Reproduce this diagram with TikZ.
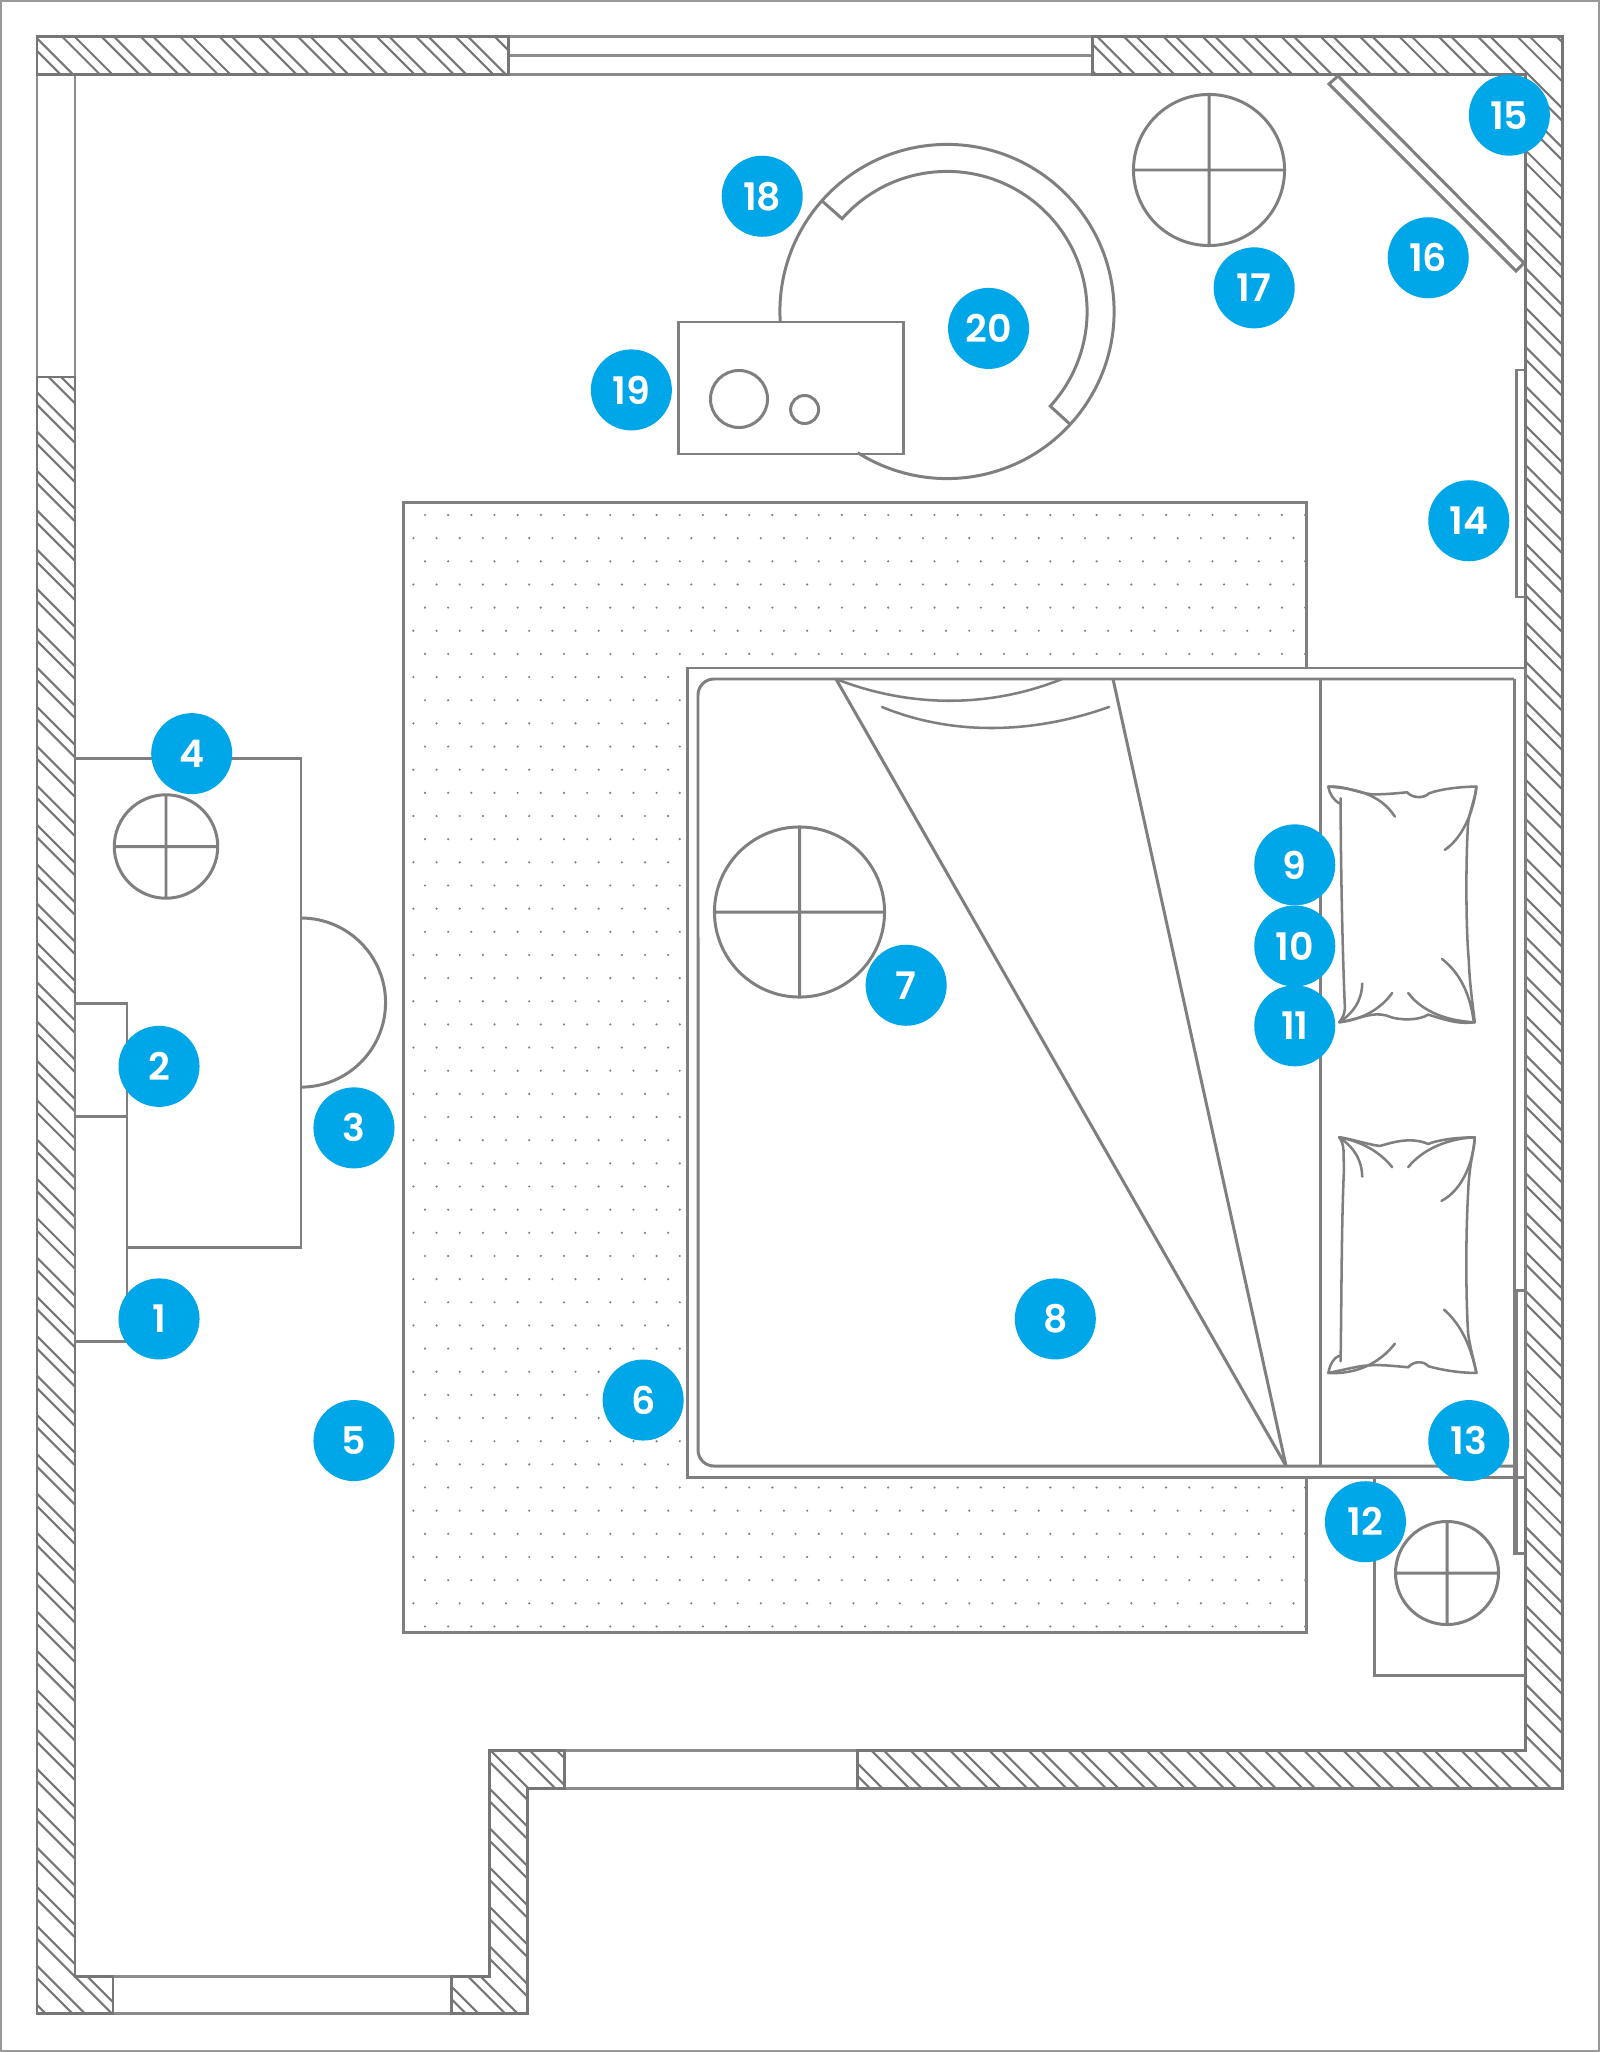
\documentclass[tikz,border=0pt]{standalone}
\usepackage{fontspec}
\setsansfont{Poppins}[BoldFont={Poppins SemiBold}]
\definecolor{ln}{HTML}{7F7F7F}
\definecolor{wl}{HTML}{767676}
\definecolor{bd}{HTML}{00A7E8}
\tikzset{
  plan/.style={draw=ln,line width=0.85pt},
  wallline/.style={draw=wl,line width=0.85pt,line join=miter},
  hatchline/.style={draw=wl,line width=0.6pt},
  winline/.style={draw=ln!90,line width=0.85pt},
  softline/.style={draw=ln,line width=0.72pt,line cap=round,line join=round},
  badge/.style={circle,fill=bd,text=white,minimum size=0.81cm,inner sep=0pt,font=\sffamily\bfseries\fontsize{10.8}{12}\selectfont}
}
\begin{document}
\begin{tikzpicture}[x=0.01cm,y=-0.01cm]
\useasboundingbox (0,0) rectangle (1600,2052);
\fill[white] (0,0) rectangle (1600,2052);
\draw[draw=ln!80,line width=0.7pt] (1,1) rectangle (1599,2051);

% hatching
\begin{scope}
\clip (37,37) rectangle (508,75)
  (37,377) -- (75,377) -- (75,1976) -- (113,1976) -- (113,2013) -- (37,2013) -- cycle
  (451,1976) -- (489,1976) -- (489,1750) -- (564,1750) -- (564,1788) -- (527,1788) -- (527,2013) -- (451,2013) -- cycle
  (857,1750) -- (1525,1750) -- (1525,75) -- (1092,75) -- (1092,37) -- (1562,37) -- (1562,1788) -- (857,1788) -- cycle;
\foreach \n in {-52,...,40}{
  \pgfmathsetmacro{\ca}{38+39.33*\n}
  \pgfmathsetmacro{\cb}{\ca-12.5}
  \draw[hatchline] (\ca,0) -- ({\ca+2052},2052);
  \draw[hatchline] (\cb,0) -- ({\cb+2052},2052);
}
\end{scope}

% windows
\draw[winline] (508,37) -- (1092,37) (508,56) -- (1092,56) (508,75) -- (1092,75);
\draw[winline] (37,75) -- (37,377) (75,75) -- (75,377);
\draw[winline] (113,1976) -- (451,1976) (113,2013) -- (451,2013);
\draw[winline] (564,1750) -- (857,1750) (564,1788) -- (857,1788);

% walls
\draw[wallline] (37,37) rectangle (508,75);
\draw[wallline] (37,377) -- (75,377) -- (75,1976) -- (113,1976) -- (113,2013) -- (37,2013) -- cycle;
\draw[wallline] (451,1976) -- (489,1976) -- (489,1750) -- (564,1750) -- (564,1788) -- (527,1788) -- (527,2013) -- (451,2013) -- cycle;
\draw[wallline] (857,1750) -- (1525,1750) -- (1525,75) -- (1092,75) -- (1092,37) -- (1562,37) -- (1562,1788) -- (857,1788) -- cycle;

% rug
\begin{scope}
\clip (403,502) rectangle (1307,1632);
\foreach \r in {0,...,48}{
  \pgfmathsetmacro{\yy}{515+23.155*\r}
  \pgfmathsetmacro{\xs}{ifthenelse(mod(\r,2)==0,425,413.4)}
  \foreach \k in {0,...,38}{
    \fill[ln] ({\xs+23.16*\k},\yy) circle (0.012cm);
  }
}
\end{scope}
\draw[plan] (403,502.5) rectangle (1306.5,1632);

% bed
\draw[plan,fill=white] (687,668) rectangle (1525,1477);
\draw[plan] (1514,679) -- (714,679) arc[start angle=90,end angle=180,radius=0.16cm]
  -- (698,1450) arc[start angle=180,end angle=270,radius=0.16cm] -- (1514,1466);
\draw[plan] (1514,679) -- (1514,1553) -- (1525,1553);
\draw[plan] (1516,1290) -- (1525,1290);
\draw[plan] (1516,1290) -- (1516,1553);
\draw[plan] (1320,679) -- (1320,1466);
\draw[plan,line join=bevel] (836,679) -- (1286,1466) -- (1113,679);
\draw[softline] (836,679) .. controls (910,708) and (990,708) .. (1062,679);
\draw[softline] (882,707) .. controls (950,735) and (1030,735) .. (1109,707);

% covered circle on bed
\draw[plan] (799.5,912) circle (0.85cm) (714.5,912) -- (884.5,912) (799.5,827) -- (799.5,997);

% pillow 1
\begin{scope}[shift={(1300,760)},x=0.003333cm,y=-0.003333cm]
\draw[softline] (85,80) .. controls (130,76) and (170,98) .. (215,103) .. controls (250,104) and (290,100) .. (322,97)
  .. controls (335,113) and (370,118) .. (388,100) .. controls (420,88) and (480,80) .. (530,80)
  .. controls (528,110) and (508,160) .. (505,190) .. controls (498,300) and (498,500) .. (507,600)
  .. controls (510,680) and (520,740) .. (525,788)
  .. controls (470,795) and (430,778) .. (385,765) .. controls (360,782) and (300,785) .. (260,768)
  .. controls (220,755) and (170,780) .. (118,788) .. controls (128,775) and (133,765) .. (135,745)
  .. controls (128,600) and (122,300) .. (122,115);
\draw[softline] (85,80) .. controls (88,100) and (100,122) .. (122,132);
\draw[softline] (85,80) .. controls (160,85) and (240,100) .. (285,170);
\draw[softline] (530,80) .. controls (520,170) and (480,240) .. (435,270);
\draw[softline] (427,598) .. controls (480,640) and (510,700) .. (522,785);
\draw[softline] (118,788) .. controls (160,760) and (185,725) .. (187,672);
\draw[softline] (118,788) .. controls (190,780) and (245,745) .. (277,700);
\draw[softline] (325,700) .. controls (370,760) and (450,785) .. (525,788);
\end{scope}

% pillow 2
\begin{scope}[shift={(1300,1120)},x=0.003333cm,y=-0.003333cm]
\draw[softline] (118,52) .. controls (160,58) and (210,75) .. (240,78) .. controls (270,70) and (330,48) .. (385,72)
  .. controls (420,58) and (480,52) .. (525,52)
  .. controls (524,90) and (508,130) .. (505,220) .. controls (498,350) and (498,520) .. (505,640)
  .. controls (510,680) and (522,720) .. (530,760)
  .. controls (480,760) and (430,752) .. (386,740) .. controls (370,722) and (340,725) .. (325,743)
  .. controls (270,738) and (220,732) .. (170,742) .. controls (140,748) and (110,755) .. (85,760)
  .. controls (90,735) and (100,715) .. (118,708);
\draw[softline] (118,52) .. controls (135,75) and (130,100) .. (132,150) .. controls (125,300) and (125,500) .. (122,725);
\draw[softline] (118,52) .. controls (165,85) and (185,120) .. (187,170);
\draw[softline] (118,52) .. controls (185,65) and (240,95) .. (277,142);
\draw[softline] (325,142) .. controls (370,85) and (450,55) .. (525,52);
\draw[softline] (525,52) .. controls (520,140) and (480,215) .. (425,243);
\draw[softline] (433,570) .. controls (490,620) and (515,690) .. (530,760);
\draw[softline] (285,672) .. controls (240,730) and (170,765) .. (85,760);
\end{scope}

% nightstand 12
\draw[plan] (1374,1477) -- (1374,1675) -- (1525,1675);
\draw[plan] (1447,1573) circle (0.515cm) (1395.5,1573) -- (1498.5,1573) (1447,1521.5) -- (1447,1624.5);

% wall panels
\draw[plan] (1525,370) -- (1516,370) -- (1516,597) -- (1525,597);

% corner panel
\draw[plan] (1524,263) -- (1338,76) -- (1329,84) -- (1516,271) -- (1524,263);

% desk
\draw[plan] (75,758) -- (301,758) -- (301,1247) -- (127,1247);
\draw[plan] (75,1003) rectangle (127,1116);
\draw[plan] (75,1116) rectangle (127,1341);
\draw[plan] (301,918) arc[start angle=90,end angle=-90,radius=0.845cm];
\draw[plan] (166,846.5) circle (0.517cm) (114.3,846.5) -- (217.7,846.5) (166,794.8) -- (166,898.2);

% round lamp 17
\draw[plan] (1209,170) circle (0.755cm) (1133.5,170) -- (1284.5,170) (1209,94.5) -- (1209,245.5);

% round table and armchair
\coordinate (rc) at (947,311.5);
\draw[plan] (rc) ++(183.6:1.67cm) arc[start angle=183.6,end angle=-122.3,radius=1.67cm];
\draw[plan] (rc) ++(138.5:1.67cm) -- ++(-41.5:0.27cm) arc[start angle=138.5,end angle=-42.5,radius=1.40cm] -- ++(-42.5:0.27cm);
\draw[plan] (678,322) rectangle (903,454);
\draw[plan] (739,399) circle (0.285cm);
\draw[plan] (804.6,409.5) circle (0.14cm);

% badges
\begin{scope}[x=0.013083cm,y=-0.013083cm,xshift=0.007cm]
\node[badge] (b1) at (121,1008) {1};
\node[badge] (b2) at (121,815) {2};
\node[badge] (b3) at (270,862) {3};
\node[badge] (b4) at (146,576) {4};
\node[badge] (b5) at (270,1101) {5};
\node[badge] (b6) at (491,1070) {6};
\node[badge] (b7) at (692,753) {7};
\node[badge] (b8) at (806,1008) {8};
\node[badge] (b9) at (989,661) {9};
\node[badge] (b10) at (989,723) {10};
\node[badge] (b11) at (989,784) {11};
\node[badge] (b12) at (1043,1163) {12};
\node[badge] (b13) at (1122,1101) {13};
\node[badge] (b14) at (1122,398) {14};
\node[badge] (b15) at (1153,88) {15};
\node[badge] (b16) at (1091,197) {16};
\node[badge] (b17) at (958,220) {17};
\node[badge] (b18) at (582,150) {18};
\node[badge] (b19) at (482,298) {19};
\node[badge] (b20) at (755,251) {20};
\end{scope}
\end{tikzpicture}
\end{document}
